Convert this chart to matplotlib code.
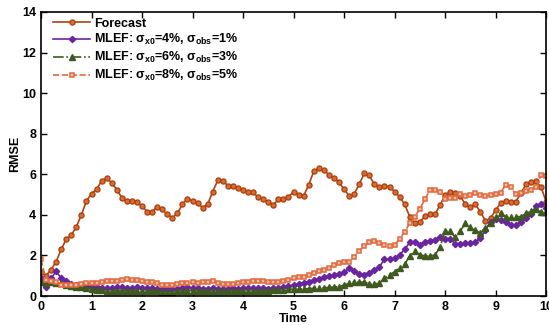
import numpy as np
import matplotlib
matplotlib.use('Agg')
import matplotlib.pyplot as plt

# time axis, step 0.1
t = np.round(np.arange(0, 10.01, 0.1), 1)

forecast = [1.2, 1.0, 1.3, 1.7, 2.3, 2.8, 3.0, 3.42, 4.0, 4.68,
            5.05, 5.25, 5.68, 5.8, 5.58, 5.24, 4.85, 4.7, 4.69, 4.62,
            4.44, 4.16, 4.16, 4.4, 4.27, 4.02, 3.86, 4.08, 4.52, 4.8,
            4.7, 4.57, 4.36, 4.52, 5.15, 5.7, 5.68, 5.43, 5.43, 5.3,
            5.22, 5.12, 5.11, 4.86, 4.76, 4.63, 4.5, 4.76, 4.8, 4.9,
            5.12, 5.0, 4.94, 5.48, 6.14, 6.3, 6.2, 5.98, 5.8, 5.6,
            5.27, 4.93, 5.02, 5.52, 6.04, 5.94, 5.5, 5.37, 5.43, 5.38,
            5.15, 4.89, 4.52, 3.91, 3.58, 3.64, 3.94, 4.02, 4.02, 4.48,
            4.97, 5.14, 5.1, 4.93, 4.53, 4.4, 4.52, 4.14, 3.71, 3.83,
            4.24, 4.57, 4.7, 4.62, 4.65, 5.06, 5.5, 5.62, 5.67, 5.38, 4.65]

mlef1 = [0.9, 0.45, 0.87, 1.22, 0.87, 0.72, 0.6, 0.53, 0.52, 0.5,
         0.46, 0.43, 0.41, 0.39, 0.41, 0.43, 0.42, 0.41, 0.39, 0.42,
         0.4, 0.38, 0.4, 0.37, 0.35, 0.33, 0.35, 0.37, 0.4, 0.42,
         0.4, 0.38, 0.37, 0.36, 0.38, 0.36, 0.35, 0.36, 0.38, 0.37,
         0.38, 0.4, 0.41, 0.4, 0.38, 0.37, 0.39, 0.41, 0.44, 0.48,
         0.54, 0.59, 0.66, 0.71, 0.79, 0.84, 0.92, 0.99, 1.03, 1.1,
         1.17, 1.36, 1.25, 1.08, 1.03, 1.12, 1.28, 1.44, 1.81, 1.81,
         1.86, 2.02, 2.3, 2.64, 2.68, 2.53, 2.67, 2.72, 2.75, 2.92,
         2.82, 2.82, 2.56, 2.56, 2.59, 2.59, 2.67, 2.84, 3.25, 3.66,
         3.78, 3.74, 3.66, 3.5, 3.5, 3.66, 3.83, 4.04, 4.43, 4.53, 4.35]

mlef2 = [0.7, 0.65, 0.68, 0.66, 0.62, 0.55, 0.48, 0.45, 0.42, 0.38,
         0.33, 0.3, 0.28, 0.27, 0.26, 0.25, 0.27, 0.25, 0.27, 0.25,
         0.26, 0.27, 0.25, 0.24, 0.22, 0.21, 0.22, 0.24, 0.25, 0.27,
         0.26, 0.24, 0.23, 0.24, 0.25, 0.24, 0.23, 0.24, 0.25, 0.26,
         0.26, 0.27, 0.26, 0.25, 0.26, 0.27, 0.28, 0.3, 0.32, 0.33,
         0.34, 0.34, 0.36, 0.36, 0.38, 0.4, 0.41, 0.42, 0.44, 0.46,
         0.54, 0.62, 0.68, 0.69, 0.68, 0.6, 0.58, 0.64, 0.87, 1.03,
         1.2, 1.4, 1.56, 1.99, 2.2, 2.04, 1.97, 1.97, 2.02, 2.4,
         3.2, 3.2, 2.89, 3.2, 3.58, 3.38, 3.25, 3.09, 3.33, 3.6,
         3.87, 4.1, 3.91, 3.87, 3.91, 3.91, 4.07, 4.2, 4.27, 4.12, 4.12]

mlef3 = [1.8, 0.78, 0.72, 0.7, 0.55, 0.52, 0.52, 0.55, 0.59, 0.62,
         0.64, 0.66, 0.7, 0.74, 0.72, 0.75, 0.79, 0.84, 0.8, 0.77,
         0.73, 0.71, 0.68, 0.62, 0.55, 0.52, 0.54, 0.57, 0.62, 0.66,
         0.67, 0.64, 0.67, 0.71, 0.74, 0.64, 0.58, 0.58, 0.61, 0.64,
         0.67, 0.71, 0.74, 0.76, 0.73, 0.67, 0.67, 0.71, 0.73, 0.77,
         0.87, 0.94, 0.96, 1.03, 1.12, 1.23, 1.28, 1.36, 1.53, 1.61,
         1.66, 1.69, 1.94, 2.23, 2.46, 2.66, 2.71, 2.63, 2.51, 2.48,
         2.51, 2.81, 3.17, 3.58, 3.91, 4.3, 4.76, 5.22, 5.22, 5.14,
         4.78, 4.84, 4.84, 5.01, 4.93, 4.96, 5.06, 4.96, 4.93, 4.96,
         5.04, 5.1, 5.47, 5.35, 5.02, 5.06, 5.17, 5.22, 5.35, 5.96, 5.93]

labels = ['Forecast',
          r'MLEF: $\sigma_{\mathbf{x0}}$=4%, $\sigma_{\mathbf{obs}}$=1%',
          r'MLEF: $\sigma_{\mathbf{x0}}$=6%, $\sigma_{\mathbf{obs}}$=3%',
          r'MLEF: $\sigma_{\mathbf{x0}}$=8%, $\sigma_{\mathbf{obs}}$=5%']

plt.rcParams['font.family'] = ['Liberation Sans', 'DejaVu Sans']
plt.rcParams['font.weight'] = 'bold'
plt.rcParams['mathtext.fontset'] = 'custom'
plt.rcParams['mathtext.rm'] = 'Liberation Sans'
plt.rcParams['mathtext.it'] = 'Liberation Sans'
plt.rcParams['mathtext.bf'] = 'Liberation Sans:bold'

fig = plt.figure(figsize=(5.49, 3.25), dpi=100)
ax = fig.add_axes([0.0747, 0.0892, 0.92, 0.874])

ax.plot(t, forecast, '-', color='#b4400c', lw=1.2, marker='o', ms=3.6,
        mfc='#d0703a', mec='#b4400c', mew=1.0, label=labels[0])
ax.plot(t, mlef1, '-', color='#6a24a0', lw=1.2, marker='D', ms=3.2,
        mfc='#6a24a0', mec='#6a24a0', label=labels[1])
ax.plot(t, mlef2, '-.', color='#3e5a1e', lw=1.2, marker='^', ms=4.2,
        mfc='#3e5a1e', mec='#3e5a1e', label=labels[2])
ax.plot(t, mlef3, '--', color='#e2683e', lw=1.2, marker='s', ms=3.2,
        mfc='#f2c0a8', mec='#e2683e', mew=1.1, label=labels[3])

ax.set_xlim(0, 10)
ax.set_ylim(0, 14)
ax.set_xticks(range(0, 11))
ax.set_yticks(range(0, 15, 2))
ax.tick_params(direction='in', top=True, right=True, labelsize=9, length=4, width=1)
for s in ax.spines.values():
    s.set_linewidth(1.2)
ax.set_xlabel('Time', fontsize=9, fontweight='bold', labelpad=0)
ax.set_ylabel('RMSE', fontsize=9, fontweight='bold', labelpad=1)

ax.legend(loc='upper left', frameon=False, fontsize=9, handlelength=3.0,
          labelspacing=0.22, borderaxespad=0.55, handletextpad=0.3,
          bbox_to_anchor=(0.0, 1.022))

fig.savefig('out.png', dpi=100)
